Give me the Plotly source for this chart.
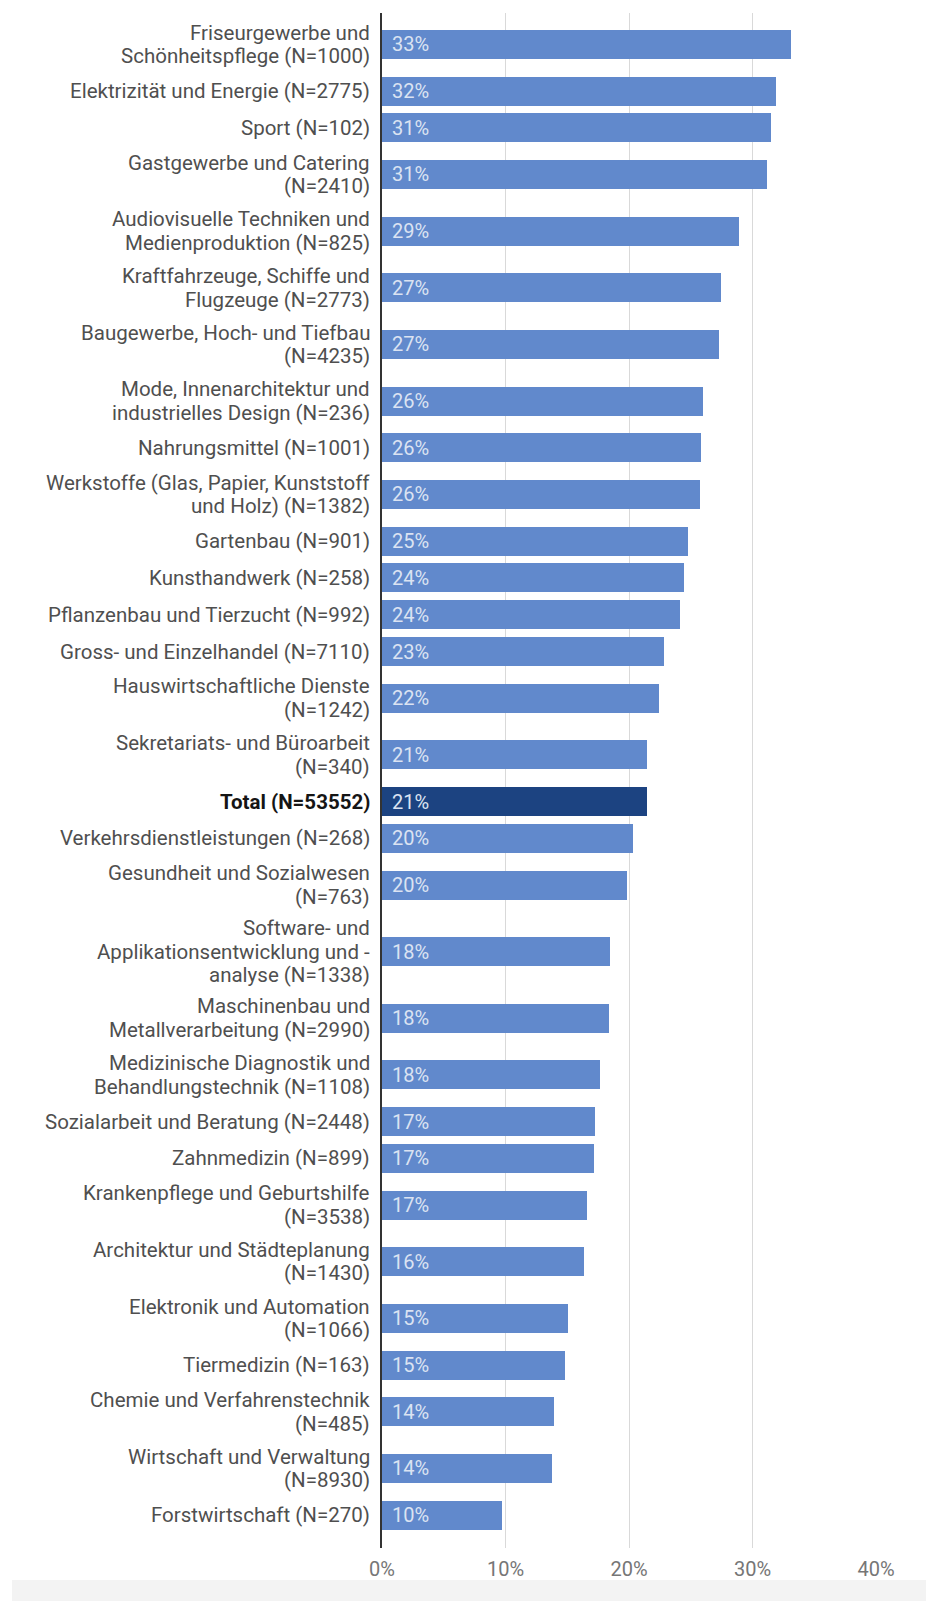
import plotly.graph_objects as go

categories = [
    "Friseurgewerbe und<br>Schönheitspflege (N=1000)",
    "Elektrizität und Energie (N=2775)",
    "Sport (N=102)",
    "Gastgewerbe und Catering<br>(N=2410)",
    "Audiovisuelle Techniken und<br>Medienproduktion (N=825)",
    "Kraftfahrzeuge, Schiffe und<br>Flugzeuge (N=2773)",
    "Baugewerbe, Hoch- und Tiefbau<br>(N=4235)",
    "Mode, Innenarchitektur und<br>industrielles Design (N=236)",
    "Nahrungsmittel (N=1001)",
    "Werkstoffe (Glas, Papier, Kunststoff<br>und Holz) (N=1382)",
    "Gartenbau (N=901)",
    "Kunsthandwerk (N=258)",
    "Pflanzenbau und Tierzucht (N=992)",
    "Gross- und Einzelhandel (N=7110)",
    "Hauswirtschaftliche Dienste<br>(N=1242)",
    "Sekretariats- und Büroarbeit<br>(N=340)",
    "Total (N=53552)",
    "Verkehrsdienstleistungen (N=268)",
    "Gesundheit und Sozialwesen<br>(N=763)",
    "Software- und<br>Applikationsentwicklung und -<br>analyse (N=1338)",
    "Maschinenbau und<br>Metallverarbeitung (N=2990)",
    "Medizinische Diagnostik und<br>Behandlungstechnik (N=1108)",
    "Sozialarbeit und Beratung (N=2448)",
    "Zahnmedizin (N=899)",
    "Krankenpflege und Geburtshilfe<br>(N=3538)",
    "Architektur und Städteplanung<br>(N=1430)",
    "Elektronik und Automation<br>(N=1066)",
    "Tiermedizin (N=163)",
    "Chemie und Verfahrenstechnik<br>(N=485)",
    "Wirtschaft und Verwaltung<br>(N=8930)",
    "Forstwirtschaft (N=270)",
]

values = [33.15, 31.9, 31.49, 31.15, 28.9, 27.45, 27.3, 26.0, 25.85, 25.75,
          24.75, 24.49, 24.15, 22.8, 22.45, 21.49, 21.45, 20.3, 19.8, 18.45,
          18.4, 17.65, 17.25, 17.15, 16.6, 16.35, 15.1, 14.85, 13.95, 13.75, 9.75]

total_label = "Total (N=53552)"
x_tickvals = [0, 10, 20, 30, 40]
x_ticktext = ["0%", "10%", "20%", "30%", "40%"]

# layout constants (row height depends on the number of label lines)
LINE = 1.0
GAP = 0.85
BAR_W = 1.46
TOP_PAD = 0.15
BOTTOM_PAD = 0.73
LINE_PX = 23.5

centers = []
nlines = []
pos = 0.0
for c in categories:
    n = c.count("<br>") + 1
    h = n * LINE + GAP
    centers.append(pos + h / 2)
    nlines.append(n)
    pos += h
total_h = pos

BLUE = "#6189cc"
NAVY = "#1c4381"
colors = [NAVY if c == total_label else BLUE for c in categories]

fig = go.Figure()
fig.add_trace(go.Bar(
    x=values, y=centers, orientation="h", width=BAR_W,
    marker=dict(color=colors, line=dict(width=0)),
    hoverinfo="skip",
))

# value labels inside bars
for v, yc in zip(values, centers):
    fig.add_annotation(
        x=0, y=yc, text=f"{round(v)}%", showarrow=False,
        xanchor="left", yanchor="middle", xshift=8,
        font=dict(family="Roboto", size=20, color="#dbe3f2"),
    )

# category labels (one annotation per line for tight line spacing)
for c, yc, n in zip(categories, centers, nlines):
    is_total = c == total_label
    for k, line in enumerate(c.split("<br>")):
        fig.add_annotation(
            x=0, xref="paper", y=yc, text=f"<b>{line}</b>" if is_total else line,
            showarrow=False, xanchor="right", yanchor="middle",
            xshift=-10, yshift=((n - 1) / 2 - k) * LINE_PX,
            font=dict(family="Roboto", size=20.5,
                      color="#151515" if is_total else "#4f4f4f"),
        )

fig.update_layout(
    width=926, height=1601,
    margin=dict(l=382, r=50, t=13, b=53),
    paper_bgcolor="white", plot_bgcolor="white",
    showlegend=False,
    font=dict(family="Roboto", size=20, color="#505050"),
    bargap=0,
)
fig.update_xaxes(
    range=[0, 40], tickvals=x_tickvals, ticktext=x_ticktext,
    showgrid=True, gridcolor="#d9d9d9", gridwidth=1,
    zeroline=False, showline=False, ticks="", ticklabelstandoff=7,
    tickfont=dict(family="Roboto", size=20, color="#767676"),
)
fig.update_yaxes(
    range=[total_h + BOTTOM_PAD, -TOP_PAD], tickvals=centers,
    showticklabels=False,
    showgrid=False, zeroline=False, showline=True, linecolor="#333333",
    linewidth=1.5, ticks="",
)
fig.add_shape(type="rect", xref="paper", yref="paper",
              x0=-0.749, x1=1.2, y0=-0.0345, y1=-0.0208,
              fillcolor="#f3f3f3", line=dict(width=0), layer="below")

fig.write_html("out.html")
